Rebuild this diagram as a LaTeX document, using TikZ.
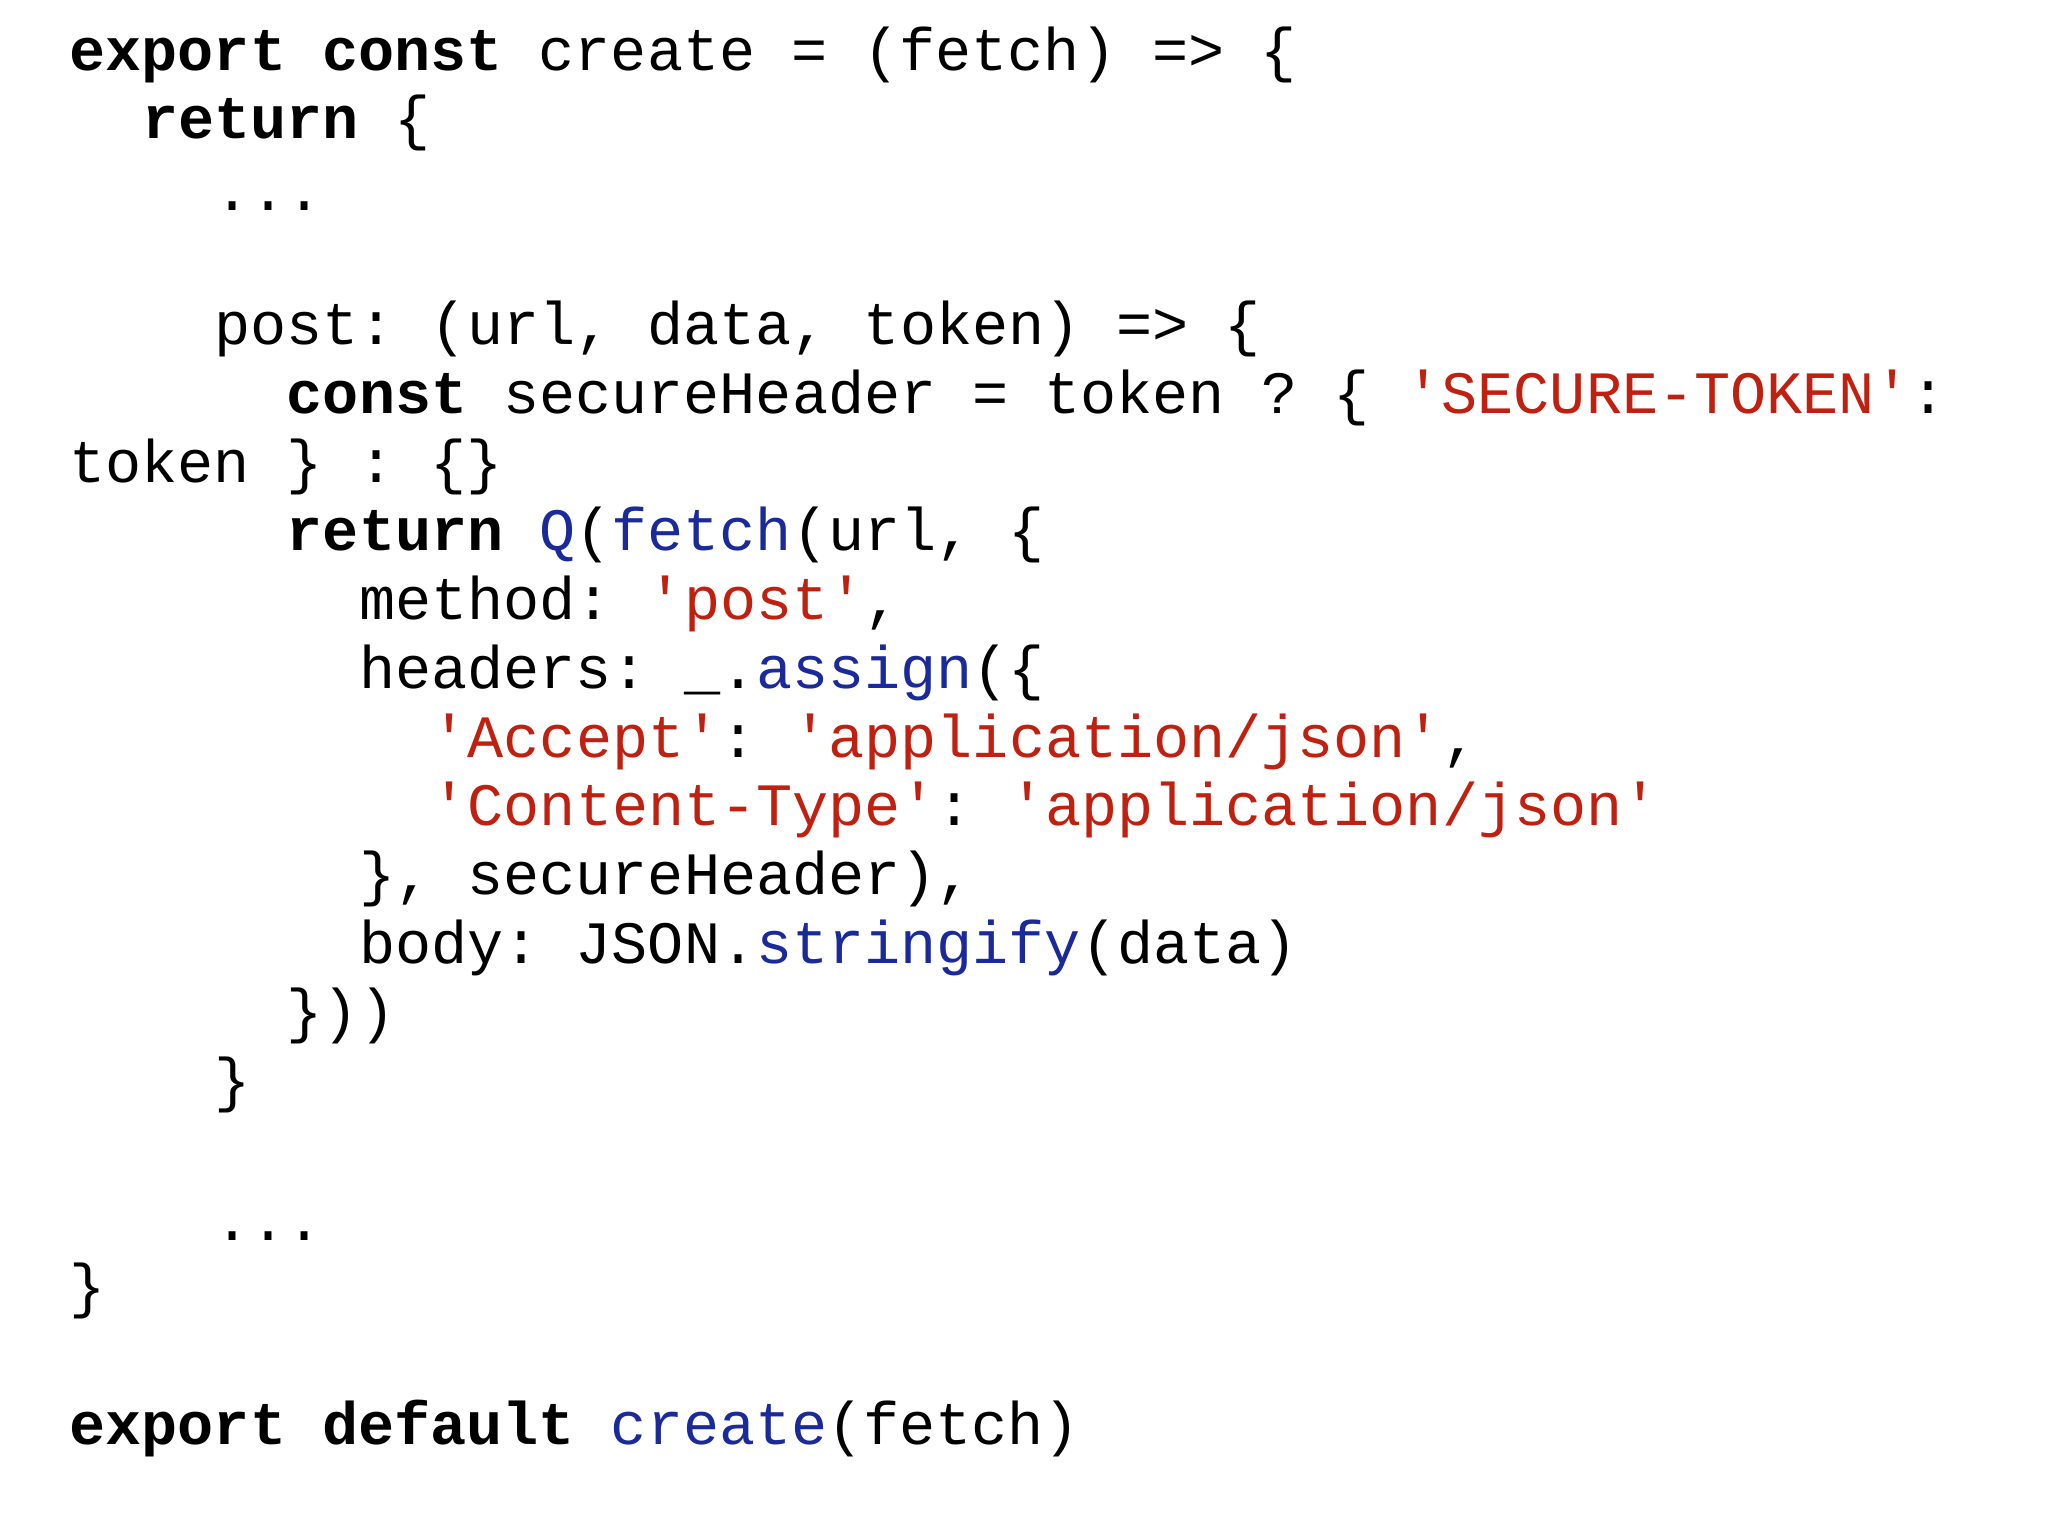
\documentclass[tikz,border=0pt]{standalone}
\usepackage{fontspec}
\setmonofont{Liberation Mono}
\definecolor{strred}{HTML}{C0200F}
\definecolor{fnblue}{HTML}{1A2A9A}
\newcommand{\kw}[1]{\textbf{#1}}
\newcommand{\strc}[1]{\textcolor{strred}{#1}}
\newcommand{\fnc}[1]{\textcolor{fnblue}{#1}}
\begin{document}
\begin{tikzpicture}[x=1cm,y=1cm,
  codeline/.style={anchor=base west,inner sep=0pt,font=\ttfamily\fontsize{12.95}{15}\selectfont,text=black}]
\fill[white] (0,0) rectangle (15.5,-11.625);
\useasboundingbox (0,0) rectangle (15.5,-11.625);
\def\cw{0.274}
\newcommand{\cl}[4]{\node[codeline] (#1) at ({0.52+#2*\cw},{-#3/100}) {#4};}
\cl{l1}{0}{53}{\kw{export const} create = (fetch) => \{}
\cl{l2}{2}{105}{\kw{return} \{}
\cl{l3}{4}{159}{...}
\cl{l4}{4}{261}{post: (url, data, token) => \{}
\cl{l5}{6}{313}{\kw{const} secureHeader = token ? \{ \strc{'SECURE-TOKEN'}:}
\cl{l6}{0}{365}{token \} : \{\}}
\cl{l7}{6}{417}{\kw{return} \fnc{Q}(\fnc{fetch}(url, \{}
\cl{l8}{8}{469}{method: \strc{'post'},}
\cl{l9}{8}{521}{headers: \_.\fnc{assign}(\{}
\cl{l10}{10}{573}{\strc{'Accept'}: \strc{'application/json'},}
\cl{l11}{10}{625}{\strc{'Content-Type'}: \strc{'application/json'}}
\cl{l12}{8}{677}{\}, secureHeader),}
\cl{l13}{8}{729}{body: JSON.\fnc{stringify}(data)}
\cl{l14}{6}{781}{\}))}
\cl{l15}{4}{833}{\}}
\cl{l16}{4}{939}{...}
\cl{l17}{0}{989}{\}}
\cl{l18}{0}{1093}{\kw{export default} \fnc{create}(fetch)}
\end{tikzpicture}
\end{document}
